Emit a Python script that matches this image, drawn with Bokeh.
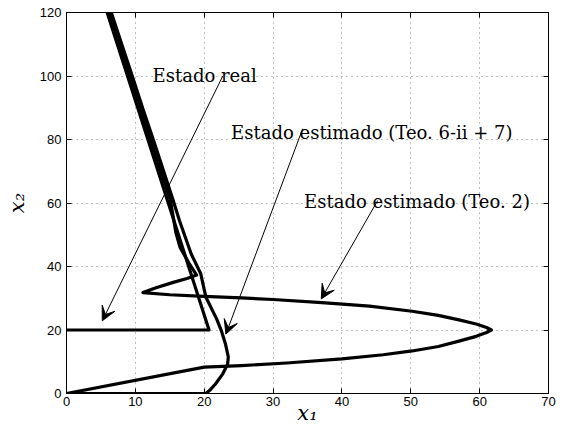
from bokeh.plotting import figure
from bokeh.models import Label, Arrow, VeeHead, LinearAxis, FixedTicker, Range1d
from bokeh.embed import file_html
from bokeh.resources import INLINE

# ---- data ----
x_ticks = [0, 10, 20, 30, 40, 50, 60, 70]
y_ticks = [0, 20, 40, 60, 80, 100, 120]

real_x = [0, 20.7, 5.9]
real_y = [20, 20, 120]

teo6_x = [0, 20.25, 20.9, 21.6, 22.7, 23.4, 23.5, 23.1, 22.5, 21.8, 20.25, 19.5, 18.1, 16.4, 15.5, 12.6, 11.2, 9.55, 6.5]
teo6_y = [0, 0, 1.2, 2.9, 6.2, 9.3, 11.5, 15.5, 19.7, 23.5, 30.3, 37.7, 44, 54.5, 60.8, 80, 89, 100, 120]

teo2_x = [0, 20.0, 25.4, 32, 40, 46, 50.2, 54, 57, 59.5, 61.0, 61.7, 61.0, 59.5, 57, 54, 50.2, 44, 37.1, 30, 25.4, 20, 15, 11.1, 13.0, 15.5, 17.5, 18.9, 17.8, 16.5, 15.9, 15.1, 12.2, 10.85, 9.2, 6.2]
teo2_y = [0, 8.3, 8.8, 9.6, 10.9, 12.2, 13.4, 14.8, 16.5, 18.0, 19.2, 20, 20.8, 21.9, 23.2, 24.6, 25.9, 27.5, 28.6, 29.6, 30.1, 30.6, 31.1, 31.8, 33.3, 35.0, 36.2, 37.3, 41, 46, 50.5, 60.8, 80, 89, 100, 120]

label_real = "Estado real"
label_teo6 = "Estado estimado (Teo. 6-ii + 7)"
label_teo2 = "Estado estimado (Teo. 2)"
xlabel = "x₁"
ylabel = "x₂"

p = figure(width=565, height=432, output_backend="svg", toolbar_location=None,
           x_range=Range1d(0, 70), y_range=Range1d(0, 120),
           min_border_left=66, min_border_right=17, min_border_top=12, min_border_bottom=39)

p.background_fill_color = "white"
p.border_fill_color = "white"
p.outline_line_color = "black"
p.outline_line_width = 1

serif = "DejaVu Serif"
for ax, ticks in ((p.xaxis[0], x_ticks), (p.yaxis[0], y_ticks)):
    ax.ticker = FixedTicker(ticks=ticks)
    ax.major_tick_in = 5
    ax.major_tick_out = 0
    ax.minor_tick_in = 0
    ax.minor_tick_out = 0
    ax.axis_line_color = "black"
    ax.major_tick_line_color = "black"
    ax.major_label_text_font = "Liberation Sans"
    ax.major_label_text_font_size = "13px"
    ax.major_label_text_color = "black"
    ax.axis_label_text_font = serif
    ax.axis_label_text_font_style = "italic"
    ax.axis_label_text_font_size = "21px"
    ax.axis_label_text_color = "black"
p.xaxis[0].axis_label = xlabel
p.yaxis[0].axis_label = ylabel
p.xaxis[0].major_label_standoff = 3
p.xaxis[0].axis_label_standoff = -8
p.yaxis[0].major_label_standoff = 5
p.yaxis[0].axis_label_standoff = 8

# ticks on top and right (box)
top = LinearAxis(ticker=FixedTicker(ticks=x_ticks))
right = LinearAxis(ticker=FixedTicker(ticks=y_ticks))
for ax in (top, right):
    ax.major_tick_in = 5
    ax.major_tick_out = 0
    ax.minor_tick_in = 0
    ax.minor_tick_out = 0
    ax.major_label_text_font_size = "0px"
    ax.major_label_standoff = 0
    ax.major_label_text_alpha = 0
    ax.axis_line_color = "black"
p.add_layout(top, "above")
p.add_layout(right, "right")

p.xgrid.ticker = FixedTicker(ticks=x_ticks)
p.ygrid.ticker = FixedTicker(ticks=y_ticks)
for g in (p.xgrid[0], p.ygrid[0]):
    g.grid_line_color = "#808080"
    g.grid_line_dash = "1 4"
    g.grid_line_width = 1

lw = 3.2
p.line(real_x, real_y, line_color="black", line_width=lw, line_join="round")
p.line(teo6_x, teo6_y, line_color="black", line_width=lw, line_join="round")
p.line(teo2_x, teo2_y, line_color="black", line_width=lw, line_join="round")

fs = "18px"
p.add_layout(Label(x=12.5, y=100.2, text=label_real, text_font=serif, text_font_size=fs,
                   text_baseline="alphabetic", text_align="left", text_color="black"))
p.add_layout(Label(x=23.9, y=82.3, text=label_teo6, text_font=serif, text_font_size=fs,
                   text_baseline="alphabetic", text_align="left", text_color="black"))
p.add_layout(Label(x=34.5, y=60.6, text=label_teo2, text_font=serif, text_font_size=fs,
                   text_baseline="alphabetic", text_align="left", text_color="black"))

def head():
    return VeeHead(size=14, fill_color="black", line_color="black", line_width=1)

p.add_layout(Arrow(end=head(), x_start=22.7, y_start=100.0, x_end=5.2, y_end=22.9,
                   line_color="black", line_width=1))
p.add_layout(Arrow(end=head(), x_start=34.3, y_start=83.4, x_end=23.15, y_end=18.7,
                   line_color="black", line_width=1))
p.add_layout(Arrow(end=head(), x_start=45.2, y_start=60.8, x_end=37.0, y_end=29.8,
                   line_color="black", line_width=1))

open("out.html", "w").write(file_html(p, INLINE))
